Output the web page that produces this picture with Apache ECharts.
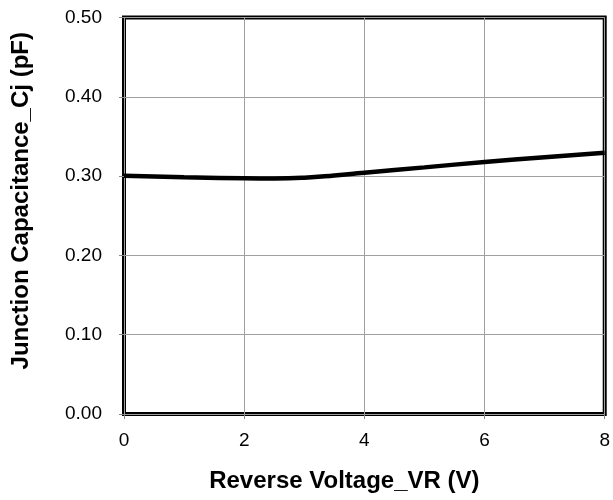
<!DOCTYPE html>
<html>
<head>
<meta charset="utf-8">
<script src="https://cdn.jsdelivr.net/npm/echarts@6/dist/echarts.min.js"></script>
<style>html,body{margin:0;padding:0;background:#fff}#c{width:613px;height:500px}</style>
</head>
<body>
<div id="c"></div>
<script>
const voltage = [0, 1, 2, 2.5, 3, 3.5, 4, 5, 6, 7, 8];
const capacitance = [0.3005, 0.2985, 0.2972, 0.2970, 0.2980, 0.3008, 0.3043, 0.3110, 0.3178, 0.3237, 0.3295];
const xTitle = 'Reverse Voltage_VR (V)';
const yTitle = 'Junction Capacitance_Cj (pF)';

const chart = echarts.init(document.getElementById('c'));
const font = 'Liberation Sans, Arial, sans-serif';
chart.setOption({
  animation: false,
  grid: { left: 124, right: 7, top: 17.5, bottom: 86, show: true, borderColor: '#000', borderWidth: 4, backgroundColor: 'transparent' },
  xAxis: {
    type: 'value', min: 0, max: 8, interval: 2,
    name: xTitle, nameLocation: 'middle', nameGap: 55,
    nameTextStyle: { fontFamily: font, fontSize: 24, fontWeight: 'bold', color: '#000', padding: [0, 40, 0, 0] },
    axisLine: { show: false },
    axisTick: { show: true, length: 5, lineStyle: { color: '#888' } },
    axisLabel: { fontFamily: font, fontSize: 19, color: '#000', margin: 17 },
    splitLine: { show: true, lineStyle: { color: '#a0a0a0', width: 1 } }
  },
  yAxis: {
    type: 'value', min: 0, max: 0.5, interval: 0.1,
    name: yTitle, nameLocation: 'middle', nameGap: 91, nameRotate: 90,
    nameTextStyle: { fontFamily: font, fontSize: 24, fontWeight: 'bold', color: '#000', padding: [0, 0, 0, 30] },
    axisLine: { show: false },
    axisTick: { show: true, length: 5, lineStyle: { color: '#888' } },
    axisLabel: { fontFamily: font, fontSize: 19, color: '#000', margin: 22, formatter: v => v.toFixed(2) },
    splitLine: { show: true, lineStyle: { color: '#a0a0a0', width: 1 } }
  },
  series: [{
    type: 'line', smooth: true, showSymbol: false,
    data: voltage.map((v, i) => [v, capacitance[i]]),
    lineStyle: { color: '#000', width: 4.5 }
  }]
});
</script>
</body>
</html>
